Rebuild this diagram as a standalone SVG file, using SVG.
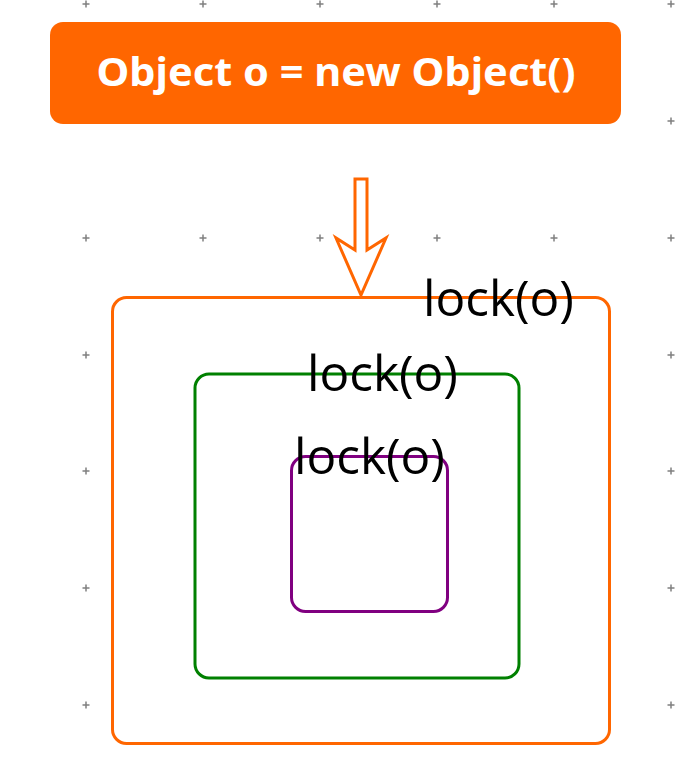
<svg xmlns="http://www.w3.org/2000/svg" width="684" height="782" viewBox="0 0 684 782">
<style>
.grid{stroke:#808080;stroke-width:1.5;fill:none}
.box{fill:#fff;stroke-width:3}
.lbl{font-family:"Open Sans","Noto Sans","DejaVu Sans",sans-serif;font-size:49.5px;fill:#000}
.title{font-family:"Noto Sans","Open Sans","DejaVu Sans",sans-serif;font-size:39px;font-weight:bold;fill:#fff}
</style>
<defs>
<path id="plus" d="M-3.5,0H3.5M0,-3.5V3.5"/>
</defs>
<rect width="684" height="782" fill="#fff"/>
<g id="grid" class="grid">
<use href="#plus" x="86" y="4"/><use href="#plus" x="203" y="4"/><use href="#plus" x="320" y="4"/><use href="#plus" x="437" y="4"/><use href="#plus" x="554" y="4"/><use href="#plus" x="671" y="4"/>
<use href="#plus" x="671" y="121"/>
<use href="#plus" x="86" y="238"/><use href="#plus" x="203" y="238"/><use href="#plus" x="320" y="238"/><use href="#plus" x="437" y="238"/><use href="#plus" x="554" y="238"/><use href="#plus" x="671" y="238"/>
<use href="#plus" x="86" y="355"/><use href="#plus" x="671" y="355"/>
<use href="#plus" x="86" y="471"/><use href="#plus" x="671" y="471"/>
<use href="#plus" x="86" y="588"/><use href="#plus" x="671" y="588"/>
<use href="#plus" x="86" y="705"/><use href="#plus" x="671" y="705"/>
</g>
<g id="title">
<rect x="50" y="22" width="571" height="102" rx="13" fill="#ff6600"/>
<text class="title" x="336" y="86" text-anchor="middle" textLength="479" lengthAdjust="spacingAndGlyphs">Object o = new Object()</text>
</g>
<g id="connectors">
<polygon points="355,179 367,179 367,250 386,238 361,295 336,238 355,250" fill="#fff" stroke="#ff6600" stroke-width="3" stroke-linejoin="miter"/>
</g>
<g id="outer">
<rect class="box" x="112.5" y="297.5" width="497" height="446" rx="14" stroke="#ff6600"/>
</g>
<g id="middle">
<rect class="box" x="195" y="374" width="324" height="304" rx="14" stroke="#008000"/>
</g>
<g id="inner">
<rect class="box" x="291.5" y="456.5" width="156" height="155" rx="14" stroke="#800080"/>
</g>
<g id="labels">
<text class="lbl" x="423" y="316">lock(o)</text>
<text class="lbl" x="307" y="391">lock(o)</text>
<text class="lbl" x="294" y="474">lock(o)</text>
</g>
</svg>
